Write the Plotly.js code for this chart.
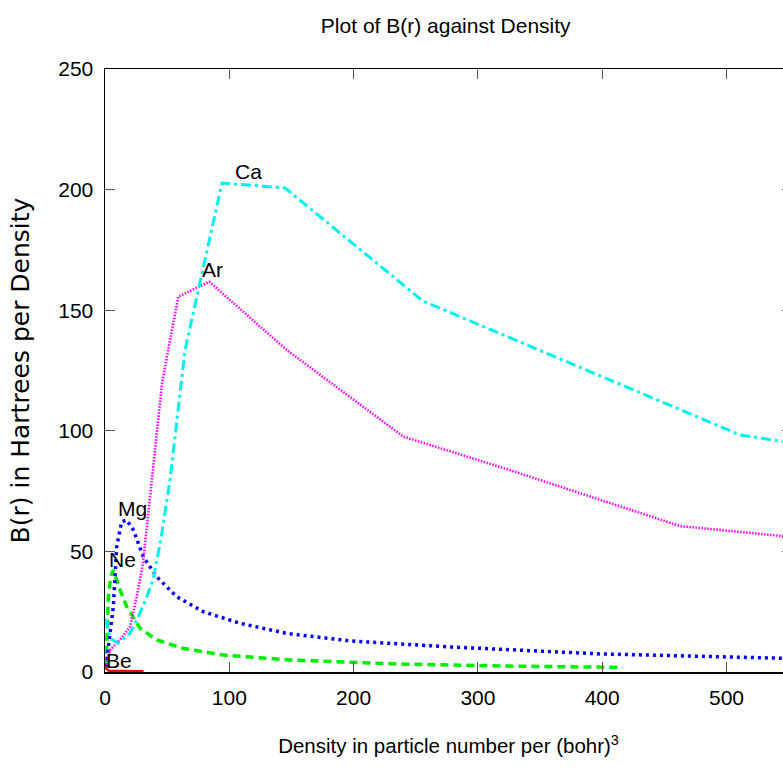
<!DOCTYPE html>
<html>
<head>
<meta charset="utf-8">
<script src="https://cdn.plot.ly/plotly-3.0.1.min.js"></script>
<style>
  html, body { margin: 0; padding: 0; overflow: hidden; background: #fff; }
  #chart { width: 800px; height: 768px; }
</style>
</head>
<body>
<div id="chart"></div>
<script>
// Series data
const beX = [0.2, 1, 3, 31];
const beY = [4, 1.5, 0.5, 0.3];

const neX = [0.8, 2.7, 4.6, 6.7, 12.1, 17.5, 28.2, 41.6, 63, 95.2, 148.8, 237.3, 317.8, 416.5];
const neY = [2.2, 31.2, 39.5, 42.3, 34, 27.1, 18.1, 13.3, 9.8, 7, 5, 3.3, 2.5, 1.9];

const mgX = [0.8, 4.0, 6.7, 9.4, 13.4, 17.5, 22.8, 30.8, 41.6, 57.7, 79.1, 108.6, 146.2, 197, 277.6, 398.2, 552];
const mgY = [2.2, 14.6, 27.1, 52, 62.3, 63, 58.9, 47.8, 39.5, 31.2, 25, 20.2, 16, 12.9, 10.4, 7.5, 5.6];

const arX = [1.6, 4, 13, 20.1, 25.5, 30.6, 34.8, 37.6, 46, 50.8, 59, 83.9, 146.2, 240, 325.8, 462.6, 552];
const arY = [2.9, 9, 14, 18.7, 31.2, 45.2, 65.8, 79.6, 120, 133.5, 155.6, 161.8, 133.5, 97.6, 83.7, 60.5, 56];

const caX = [0.5, 4, 10.5, 20, 25.7, 32, 38.6, 45, 52.3, 58, 64.4, 94.1, 144.8, 255.8, 510.9, 552];
const caY = [22, 14, 12, 16, 21.6, 29, 38.1, 55, 79.6, 105, 133.5, 202.7, 200.7, 153.8, 98.3, 95];

const labelNames = ["Ca", "Ar", "Mg", "Ne", "Be"];
const labelX = [115.8, 86.1, 22.5, 14.1, 11];
const labelY = [207.7, 166.7, 67.6, 46.8, 4.6];

const xTicks = [0, 100, 200, 300, 400, 500];
const yTicks = [0, 50, 100, 150, 200, 250];

const sans = "Liberation Sans, Arial, sans-serif";

const traces = [
  {x: beX, y: beY, mode: "lines", line: {color: "#ff0000", width: 2.5}},
  {x: neX, y: neY, mode: "lines", line: {color: "#00ee00", width: 3.5, dash: "8px,5px"}},
  {x: mgX, y: mgY, mode: "lines", line: {color: "#0000ff", width: 3.5, dash: "3px,4px"}},
  {x: arX, y: arY, mode: "lines", line: {color: "#ff00ff", width: 2.6, dash: "1.5px,1.5px"}},
  {x: caX, y: caY, mode: "lines", line: {color: "#00f0f0", width: 3, dash: "10px,4px,3px,4px"}}
];

const annotations = labelNames.map((t, i) => ({
  x: labelX[i], y: labelY[i], xref: "x", yref: "y", text: t,
  showarrow: false, xanchor: "center", yanchor: "middle",
  font: {family: sans, size: 21, color: "#000"}
}));

const layout = {
  width: 800, height: 768,
  margin: {l: 105, r: 8, t: 69, b: 96},
  paper_bgcolor: "#fff", plot_bgcolor: "#fff",
  showlegend: false,
  title: {
    text: "Plot of B(r) against Density",
    font: {family: sans, size: 21, color: "#000"},
    x: 0.496, xref: "paper", xanchor: "center",
    y: 0.967, yref: "container", yanchor: "middle"
  },
  xaxis: {
    range: [0, 552.7],
    tickvals: xTicks, ticktext: xTicks.map(String),
    ticks: "inside", ticklen: 10, tickwidth: 1, tickcolor: "#555",
    showline: true, linecolor: "#000", linewidth: 1.5, mirror: "allticks",
    showgrid: false, zeroline: false,
    tickfont: {family: sans, size: 21, color: "#000"},
    ticklabelstandoff: 6,
    title: {
      text: "Density in particle number per (bohr)<sup>3</sup>",
      font: {family: sans, size: 20.5, color: "#000"},
      standoff: 31
    }
  },
  yaxis: {
    range: [0, 250],
    tickvals: yTicks, ticktext: yTicks.map(String),
    ticks: "inside", ticklen: 10, tickwidth: 1, tickcolor: "#555",
    showline: true, linecolor: "#000", linewidth: 1.5, mirror: "allticks",
    showgrid: false, zeroline: false,
    tickfont: {family: sans, size: 21, color: "#000"},
    ticklabelstandoff: 6,
    title: {
      text: "B(r) in Hartrees per Density",
      font: {family: "DejaVu Sans, sans-serif", size: 25, color: "#000"},
      standoff: 21
    }
  },
  annotations: annotations
};

Plotly.newPlot("chart", traces, layout, {staticPlot: true, displayModeBar: false});
</script>
</body>
</html>
